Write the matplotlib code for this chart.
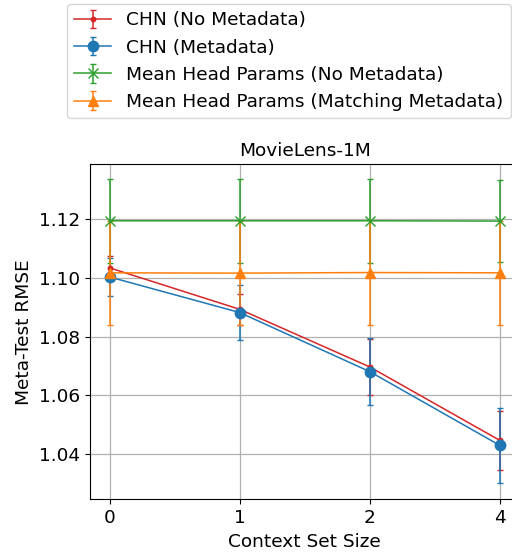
import matplotlib
matplotlib.use("Agg")
import matplotlib.pyplot as plt
import numpy as np

context_labels = ["0", "1", "2", "4"]
chn_nometa = [1.1034, 1.0893, 1.0697, 1.0447]
chn_nometa_err = [0.0040, 0.0053, 0.0094, 0.0100]
chn_meta = [1.1003, 1.0882, 1.0681, 1.0430]
chn_meta_err = [0.0065, 0.0092, 0.0115, 0.0127]
mean_nometa = [1.1194, 1.1194, 1.1194, 1.1193]
mean_nometa_err = [0.0143, 0.0143, 0.0143, 0.0140]
mean_meta = [1.1017, 1.1016, 1.1018, 1.1017]
mean_meta_err = [0.0177, 0.0177, 0.0177, 0.0177]

W, H = 512, 552
fig = plt.figure(figsize=(W / 100, H / 100), dpi=100)
ax = fig.add_axes([90 / W, (H - 499.3) / H, 429.5 / W, (499.3 - 164.3) / H])

x = np.arange(len(context_labels))
fs = 13.3
cs = 2.4
lw = 1.1
ax.errorbar(x, chn_nometa, yerr=chn_nometa_err, color="#d62728", marker=".",
            markersize=6.5, lw=lw, capsize=cs, label="CHN (No Metadata)")
ax.errorbar(x, chn_meta, yerr=chn_meta_err, color="#1f77b4", marker="o",
            markersize=7.5, lw=lw, capsize=cs, label="CHN (Metadata)")
ax.errorbar(x, mean_nometa, yerr=mean_nometa_err, color="#2ca02c", marker="x",
            markersize=7.5, lw=lw, capsize=cs, label="Mean Head Params (No Metadata)")
ax.errorbar(x, mean_meta, yerr=mean_meta_err, color="#ff7f0e", marker="^",
            markersize=7.5, lw=lw, capsize=cs, label="Mean Head Params (Matching Metadata)")

ax.set_xticks(x)
ax.set_xticklabels(context_labels, fontsize=fs)
ax.set_yticks([1.04, 1.06, 1.08, 1.10, 1.12])
ax.set_yticklabels(["1.04", "1.06", "1.08", "1.10", "1.12"], fontsize=fs)
ax.set_xlim(-0.15, 3.15)
ax.set_ylim(1.0247, 1.1386)
ax.grid(True, color="#b0b0b0", lw=0.9)
ax.set_axisbelow(True)
ax.set_xlabel("Context Set Size", fontsize=fs)
ax.set_ylabel("Meta-Test RMSE", fontsize=fs)
ax.set_title("MovieLens-1M", fontsize=fs)

fig.legend(loc="upper left", bbox_to_anchor=(67 / W, 1 - 4 / H), fontsize=fs,
           borderaxespad=0)

fig.savefig("out.png", dpi=100)
